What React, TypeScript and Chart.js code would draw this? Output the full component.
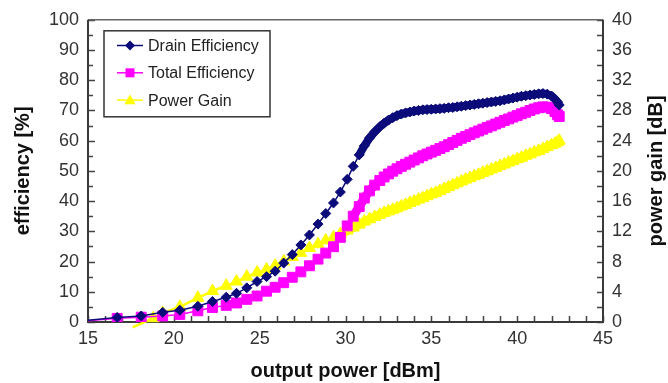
import React, { useEffect, useRef } from 'react';
import { Chart, registerables } from 'chart.js';

Chart.register(...registerables);

// ---- data ----
const outputPower = [
  15.0, 16.7, 17.6, 18.1, 18.8, 19.35, 20.35, 21.4, 22.25, 23.05, 23.65, 24.25, 24.85, 25.4, 25.9,
  26.4, 26.9, 27.4, 27.9, 28.4, 28.85, 29.3, 29.7, 30.1, 30.45, 30.8, 31.1, 31.4, 31.7, 32.0,
  32.25, 32.5, 32.75, 33.0, 33.25, 33.5, 33.75, 34.0, 34.25, 34.5,
  34.75, 35.0, 35.25, 35.5, 35.75, 36.0, 36.25, 36.5, 36.75, 37.0,
  37.25, 37.5, 37.75, 38.0, 38.25, 38.5, 38.75, 39.0, 39.25, 39.5,
  39.75, 40.0, 40.25, 40.5, 40.75, 41.0, 41.25, 41.5, 41.75, 42.0,
  42.2, 42.35, 42.45,
];

const drainEfficiency = [
  0.6, 1.5, null, 2.0, null, 3.2, 3.9, 5.2, 6.8, 8.2, 9.5, 11.3, 13.4, 15.0, 16.8,
  19.5, 22.3, 25.5, 28.8, 32.4, 35.9, 39.4, 43.0, 47.2, 51.5, 55.3, 58.3, 60.9, 62.9, 64.6,
  65.8, 66.8, 67.6, 68.3, 68.8, 69.2, 69.5, 69.8, 70.0, 70.2,
  70.3, 70.4, 70.5, 70.6, 70.7, 70.9, 71.0, 71.2, 71.4, 71.6,
  71.8, 72.0, 72.2, 72.4, 72.6, 72.8, 73.0, 73.2, 73.5, 73.8,
  74.1, 74.4, 74.7, 74.9, 75.1, 75.3, 75.5, 75.6, 75.4, 74.8,
  73.8, 72.8, 71.8,
];

const totalEfficiency = [
  0.4, 1.2, null, 1.6, null, 2.0, 2.5, 3.7, 4.8, 5.5, 6.3, 7.5, 8.6, 10.2, 11.5,
  13.0, 14.8, 16.6, 18.6, 20.8, 22.8, 24.9, 28.0, 31.8, 35.0, 38.2, 41.0, 43.4, 45.3, 46.8,
  48.0, 49.0, 49.9, 50.7, 51.5, 52.2, 52.9, 53.6, 54.3, 55.0,
  55.6, 56.2, 56.8, 57.4, 58.0, 58.7, 59.4, 60.1, 60.8, 61.4,
  62.0, 62.6, 63.2, 63.8, 64.4, 64.9, 65.5, 66.1, 66.7, 67.2,
  67.8, 68.3, 68.9, 69.4, 70.0, 70.5, 70.9, 71.2, 71.1, 70.6,
  69.6, 68.6, 68.0,
];

const powerGain = [
  null, null, -0.7, null, 0.5, 1.2, 2.0, 3.2, 4.1, 4.8, 5.35, 6.0, 6.55, 6.95, 7.45,
  8.0, 8.6, 9.15, 9.8, 10.3, 10.8, 11.2, 11.65, 12.1, 12.5, 12.9, 13.3, 13.6, 13.9, 14.2,
  14.45, 14.65, 14.85, 15.05, 15.3, 15.5, 15.75, 15.95, 16.2, 16.4,
  16.65, 16.9, 17.1, 17.35, 17.6, 17.85, 18.1, 18.35, 18.6, 18.85,
  19.05, 19.3, 19.5, 19.75, 19.95, 20.2, 20.4, 20.65, 20.85, 21.1,
  21.3, 21.55, 21.75, 22.0, 22.2, 22.45, 22.65, 22.9, 23.15, 23.4,
  23.6, 23.8, 24.0,
];

const seriesLabels = ['Drain Efficiency', 'Total Efficiency', 'Power Gain'];
const axisTitles = { x: 'output power [dBm]', y: 'efficiency [%]', y2: 'power gain [dB]' };

const FONT = "'Liberation Sans', Arial, Helvetica, sans-serif";

function toPoints(values: (number | null)[]) {
  return outputPower.map((x, i) => ({ x, y: values[i] }));
}

function firstIndex(values: (number | null)[]) {
  return values.findIndex((v) => v !== null);
}

function drawMarker(ctx: CanvasRenderingContext2D, shape: string, x: number, y: number, r: number) {
  ctx.beginPath();
  if (shape === 'rectRot') {
    ctx.moveTo(x, y - r);
    ctx.lineTo(x + r, y);
    ctx.lineTo(x, y + r);
    ctx.lineTo(x - r, y);
  } else if (shape === 'rect') {
    ctx.rect(x - r, y - r, 2 * r, 2 * r);
  } else {
    ctx.moveTo(x, y - r);
    ctx.lineTo(x + 0.866 * r, y + 0.5 * r);
    ctx.lineTo(x - 0.866 * r, y + 0.5 * r);
  }
  ctx.closePath();
  ctx.fill();
}

const framePlugin = {
  id: 'frameTicks',
  beforeDatasetsDraw(chart: any) {
    const { ctx, chartArea: a, scales } = chart;
    ctx.save();
    ctx.strokeStyle = '#444';
    ctx.lineWidth = 1.5;
    ctx.beginPath();
    for (let v = 15; v <= 45; v += 1) {
      const px = Math.round(scales.x.getPixelForValue(v)) + 0.5;
      ctx.moveTo(px, a.bottom);
      ctx.lineTo(px, a.bottom - 6);
    }
    for (let v = 0; v <= 100; v += 5) {
      const py = Math.round(scales.y.getPixelForValue(v)) + 0.5;
      ctx.moveTo(a.left, py);
      ctx.lineTo(a.left + (v % 10 === 0 ? 7 : 5), py);
    }
    for (let v = 0; v <= 40; v += 2) {
      const py = Math.round(scales.y2.getPixelForValue(v)) + 0.5;
      ctx.moveTo(a.right, py);
      ctx.lineTo(a.right - 6, py);
    }
    ctx.stroke();
    ctx.strokeStyle = '#666';
    ctx.lineWidth = 1.5;
    ctx.beginPath();
    ctx.moveTo(a.left, a.top);
    ctx.lineTo(a.right, a.top);
    ctx.stroke();
    ctx.strokeStyle = '#3a3a3a';
    ctx.lineWidth = 2;
    ctx.beginPath();
    ctx.moveTo(a.left, a.top);
    ctx.lineTo(a.left, a.bottom);
    ctx.lineTo(a.right, a.bottom);
    ctx.lineTo(a.right, a.top);
    ctx.stroke();
    ctx.restore();
  },
};

const legendPlugin = {
  id: 'boxLegend',
  afterDraw(chart: any) {
    const { ctx, chartArea: a } = chart;
    const left = a.left + 16;
    const top = a.top + 11;
    const w = 166;
    const h = 86;
    ctx.save();
    ctx.fillStyle = '#fff';
    ctx.fillRect(left, top, w, h);
    ctx.strokeStyle = '#333';
    ctx.lineWidth = 1.5;
    ctx.strokeRect(left, top, w, h);
    chart.data.datasets.forEach((ds: any, i: number) => {
      const y = top + 14.7 + i * 27.3;
      ctx.strokeStyle = ds.borderColor;
      ctx.lineWidth = 1.5;
      ctx.beginPath();
      ctx.moveTo(left + 13, y);
      ctx.lineTo(left + 39, y);
      ctx.stroke();
      ctx.fillStyle = ds.backgroundColor;
      const r = ds.pointStyle === 'rect' ? 4.5 : ds.pointStyle === 'rectRot' ? 5 : 6.5;
      drawMarker(ctx, ds.pointStyle, left + 26, ds.pointStyle === 'triangle' ? y + 1 : y, r);
      ctx.fillStyle = '#222';
      ctx.font = `16px ${FONT}`;
      ctx.textAlign = 'left';
      ctx.textBaseline = 'middle';
      ctx.fillText(ds.label, left + 44, y + 1);
    });
    ctx.restore();
  },
};

const titlePlugin = {
  id: 'axisTitles',
  afterDraw(chart: any) {
    const { ctx, chartArea: a } = chart;
    const cy = (a.top + a.bottom) / 2;
    ctx.save();
    ctx.fillStyle = '#111';
    ctx.font = `bold 20px ${FONT}`;
    ctx.textAlign = 'center';
    ctx.textBaseline = 'middle';
    ctx.fillText(axisTitles.x, (a.left + a.right) / 2, 371);
    ctx.save();
    ctx.translate(23, cy);
    ctx.rotate(-Math.PI / 2);
    ctx.fillText(axisTitles.y, 0, 0);
    ctx.restore();
    ctx.save();
    ctx.translate(656, cy);
    ctx.rotate(-Math.PI / 2);
    ctx.fillText(axisTitles.y2, 0, 0);
    ctx.restore();
    ctx.restore();
  },
};

export default function App() {
  const canvasRef = useRef<HTMLCanvasElement | null>(null);

  useEffect(() => {
    const canvas = canvasRef.current;
    if (!canvas) return;
    const series = [
      { label: seriesLabels[0], values: drainEfficiency, color: '#0b0b7a', style: 'rectRot', r: 5, axis: 'y', lw: 1.5, band: 8, bandFrom: 30.8 },
      { label: seriesLabels[1], values: totalEfficiency, color: '#ff00ff', style: 'rect', r: 7, axis: 'y', lw: 1.5, band: 9, bandFrom: 30.4 },
      { label: seriesLabels[2], values: powerGain, color: '#ffff00', style: 'triangle', r: 7, axis: 'y2', lw: 2.5, band: 9, bandFrom: 29.6 },
    ];
    const chart = new Chart(canvas, {
      type: 'line',
      data: {
        datasets: series.map((s) => {
          const first = firstIndex(s.values);
          return {
            label: s.label,
            data: toPoints(s.values),
            yAxisID: s.axis,
            borderColor: s.color,
            backgroundColor: s.color,
            borderWidth: s.lw,
            borderCapStyle: 'butt',
            borderJoinStyle: 'round',
            segment: {
              borderWidth: (ctx: any) => (ctx.p0.parsed.x >= s.bandFrom ? s.band : s.lw),
            },
            pointStyle: s.style,
            pointRadius: (ctx: any) => (ctx.dataIndex === first ? 0 : s.r),
            pointBorderWidth: 1,
            pointBorderColor: s.color,
            pointBackgroundColor: s.color,
            spanGaps: true,
            tension: 0,
            clip: s.axis === 'y2' ? false : undefined,
          } as any;
        }),
      },
      options: {
        animation: false,
        responsive: false,
        devicePixelRatio: 1,
        events: [],
        layout: { padding: { top: 15, left: 0, right: 0, bottom: 0 } },
        plugins: { legend: { display: false }, tooltip: { enabled: false } },
        scales: {
          x: {
            type: 'linear',
            min: 15,
            max: 45,
            grid: { display: false, drawTicks: false },
            border: { display: false },
            ticks: { stepSize: 5, color: '#333', font: { family: FONT, size: 18 }, padding: 6 },
            afterFit: (s: any) => { s.height = 61; },
          },
          y: {
            type: 'linear',
            position: 'left',
            min: 0,
            max: 100,
            grid: { display: false, drawTicks: false },
            border: { display: false },
            ticks: { stepSize: 10, color: '#333', font: { family: FONT, size: 18 }, padding: 9 },
            afterFit: (s: any) => { s.width = 88; },
          },
          y2: {
            type: 'linear',
            position: 'right',
            min: 0,
            max: 40,
            grid: { display: false, drawTicks: false },
            border: { display: false },
            ticks: { stepSize: 4, color: '#333', font: { family: FONT, size: 18 }, padding: 9 },
            afterFit: (s: any) => { s.width = 65; },
          },
        },
      } as any,
      plugins: [framePlugin, titlePlugin, legendPlugin],
    });
    return () => chart.destroy();
  }, []);

  return (
    <div style={{ position: 'fixed', left: 0, top: 0, width: 668, height: 383, background: '#fff' }}>
      <canvas ref={canvasRef} width={668} height={383} style={{ display: 'block', width: 668, height: 383 }} />
    </div>
  );
}
